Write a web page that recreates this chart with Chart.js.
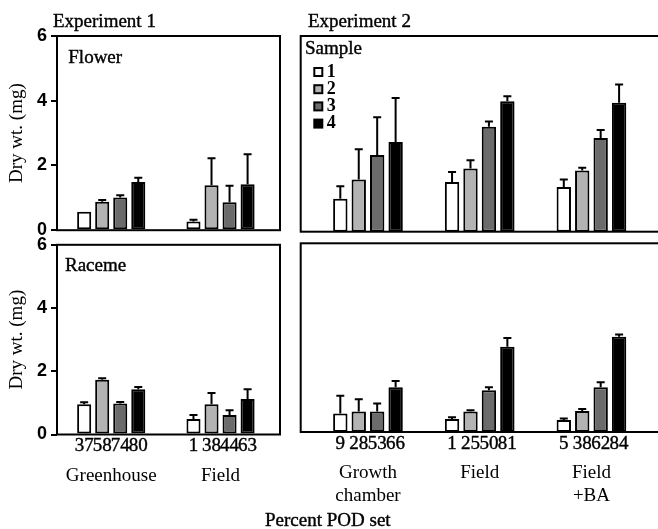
<!DOCTYPE html>
<html>
<head>
<meta charset="utf-8">
<script src="https://cdn.jsdelivr.net/npm/chart.js@4.4.0/dist/chart.umd.min.js"></script>
<style>
  body { margin: 0; background: #fff; overflow: hidden; }
  #wrap { position: relative; width: 658px; height: 529px; overflow: hidden; }
  canvas { position: absolute; }
  #xcap { position: absolute; left: 265px; top: 510px; font: 19px/19px "Liberation Serif", serif; color: #000; white-space: nowrap; -webkit-text-stroke: 0.4px #000; }
</style>
</head>
<body>
<div id="wrap">
  <canvas id="flower1" width="290" height="245" style="left:0;top:0"></canvas>
  <canvas id="flower2" width="390" height="245" style="left:290px;top:0"></canvas>
  <canvas id="raceme1" width="290" height="299" style="left:0;top:230px"></canvas>
  <canvas id="raceme2" width="390" height="299" style="left:290px;top:230px"></canvas>
  <div id="xcap">Percent POD set</div>
</div>
<script>
const SERIF = '"Liberation Serif", "Times New Roman", serif';

const sampleNames = ['1', '2', '3', '4'];
const sampleFill = ['#ffffff', '#b3b3b3', '#6b6b6b', '#000000'];

const exp1Groups = ['Greenhouse', 'Field'];
const exp2Groups = [['Growth', 'chamber'], 'Field', ['Field', '+BA']];

// percent POD set, one row per group, one value per sample
const exp1PodSet = [['37', '58', '74', '80'], ['1', '38', '44', '63']];
const exp2PodSet = [['9', '28', '53', '66'], ['1', '25', '50', '81'], ['5', '38', '62', '84']];

// dry wt (mg): one row per sample, one value per group
const flower1Mean = [[0.57, 0.27], [0.88, 1.39], [1.01, 0.86], [1.49, 1.42]];
const flower1Err  = [[0, 0.05], [0.05, 0.83], [0.07, 0.51], [0.13, 0.93]];

const flower2Mean = [[1.01, 1.52, 1.37], [1.6, 1.94, 1.88], [2.35, 3.22, 2.87], [2.75, 4.0, 3.95]];
const flower2Err  = [[0.38, 0.31, 0.23], [0.93, 0.25, 0.08], [1.16, 0.16, 0.25], [1.35, 0.15, 0.56]];

const raceme1Mean = [[0.96, 0.49], [1.73, 0.96], [0.98, 0.62], [1.43, 1.12]];
const raceme1Err  = [[0.06, 0.13], [0.05, 0.35], [0.05, 0.15], [0.07, 0.31]];

const raceme2Mean = [[0.59, 0.41, 0.38], [0.65, 0.65, 0.67], [0.65, 1.33, 1.42], [1.42, 2.71, 3.03]];
const raceme2Err  = [[0.56, 0.06, 0.05], [0.39, 0.04, 0.06], [0.26, 0.09, 0.16], [0.2, 0.28, 0.07]];

// scanned look: fill + thin stroke
function heavyText(ctx, s, x, y) {
  ctx.fillText(s, x, y);
  ctx.lineWidth = 0.4;
  ctx.strokeText(s, x, y);
}

// error bars, frame, pod-set numbers, panel labels, legend
const panelPlugin = {
  id: 'panel',
  afterDatasetsDraw(chart, args, opts) {
    const ctx = chart.ctx;
    const a = chart.chartArea;
    const yScale = chart.scales.y;
    ctx.save();
    ctx.strokeStyle = '#000';
    ctx.fillStyle = '#000';
    ctx.lineWidth = 2;

    chart.data.datasets.forEach((ds, di) => {
      chart.getDatasetMeta(di).data.forEach((bar, i) => {
        const e = ds.errors[i];
        if (!e) return;
        const top = yScale.getPixelForValue(ds.data[i].y + e);
        ctx.beginPath();
        ctx.moveTo(bar.x, bar.y);
        ctx.lineTo(bar.x, top);
        ctx.moveTo(bar.x - 4, top);
        ctx.lineTo(bar.x + 4, top);
        ctx.stroke();
      });
    });

    ctx.strokeRect(a.left, a.top, a.right - a.left, a.bottom - a.top);

    if (opts.pod) {
      ctx.font = '19px ' + SERIF;
      ctx.textAlign = 'center';
      ctx.textBaseline = 'middle';
      chart.data.datasets.forEach((ds, di) => {
        chart.getDatasetMeta(di).data.forEach((bar, i) => {
          heavyText(ctx, opts.pod[i][di], bar.x, a.bottom + 12);
        });
      });
    }

    ctx.textAlign = 'left';
    ctx.textBaseline = 'alphabetic';
    if (opts.heading) {
      ctx.font = '19px ' + SERIF;
      heavyText(ctx, opts.heading.text, opts.heading.x, opts.heading.y);
    }
    if (opts.label) {
      ctx.font = '19px ' + SERIF;
      heavyText(ctx, opts.label.text, a.left + opts.label.dx, a.top + opts.label.dy);
    }
    if (opts.legend) {
      ctx.font = '19px ' + SERIF;
      heavyText(ctx, 'Sample', a.left + 4.3, a.top + 18);
      ctx.font = 'bold 18px ' + SERIF;
      sampleNames.forEach((name, k) => {
        const base = a.top + 40.5 + 17.2 * k;
        ctx.lineWidth = 2;
        ctx.fillStyle = sampleFill[k];
        ctx.fillRect(a.left + 13.6, base - 8.5, 8, 8);
        ctx.strokeRect(a.left + 13.6, base - 8.5, 8, 8);
        ctx.fillStyle = '#000';
        ctx.fillText(name, a.left + 26, base);
      });
    }
    ctx.restore();
  }
};

function makeChart(id, o) {
  const datasets = o.mean.map((row, s) => ({
    label: sampleNames[s],
    data: row.map((v, i) => ({ x: i, y: v })),
    errors: o.err[s],
    backgroundColor: sampleFill[s],
    borderColor: '#000',
    borderWidth: 2,
    borderSkipped: false,
    categoryPercentage: 0.66,
    barPercentage: 0.78
  }));

  const yAxis = o.yAxis ? {
    min: 0, max: 6,
    afterFit: ax => { ax.width = 57; },
    grid: { drawOnChartArea: false, drawTicks: true, tickLength: 6, color: '#000', lineWidth: 2 },
    border: { display: false },
    ticks: { stepSize: 2, padding: 4, color: '#000', font: { family: '"Liberation Sans", Arial, sans-serif', size: 18, weight: 'bold' } },
    title: { display: true, text: 'Dry wt. (mg)', color: '#000', font: { family: SERIF, size: 19 }, padding: { top: 5.6, bottom: 0 } }
  } : { display: false, min: 0, max: 6 };

  return new Chart(document.getElementById(id), {
    type: 'bar',
    data: { datasets },
    plugins: [panelPlugin],
    options: {
      responsive: false,
      animation: false,
      layout: { padding: o.pad },
      plugins: { legend: { display: false }, tooltip: { enabled: false }, panel: o.panel },
      scales: {
        x: {
          type: 'linear', min: o.xMin, max: o.xMax, offset: false,
          afterBuildTicks: ax => { ax.ticks = o.groups.map((g, i) => ({ value: i })); },
          afterFit: ax => { ax.height = o.xHeight; },
          grid: { display: false, drawTicks: false, offset: false },
          border: { display: false },
          ticks: {
            display: o.xHeight > 0, padding: 30, color: '#000', autoSkip: false, maxRotation: 0,
            font: { family: SERIF, size: 19 },
            callback: v => o.groups[Math.round(v)]
          }
        },
        y: yAxis
      }
    }
  });
}

makeChart('flower1', {
  mean: flower1Mean, err: flower1Err, groups: exp1Groups,
  xMin: -0.496, xMax: 1.544, xHeight: 0, yAxis: true,
  pad: { left: 0, top: 36, right: 10, bottom: 13.3 },
  panel: { heading: { text: 'Experiment 1', x: 53, y: 26.7 }, label: { text: 'Flower', dx: 11.3, dy: 27.3 } }
});

makeChart('flower2', {
  mean: flower2Mean, err: flower2Err, groups: exp2Groups,
  xMin: -0.602, xMax: 2.703, xHeight: 0, yAxis: false,
  pad: { left: 10.7, top: 36, right: 10, bottom: 13.3 },
  panel: { heading: { text: 'Experiment 2', x: 18, y: 26.7 }, legend: true }
});

makeChart('raceme1', {
  mean: raceme1Mean, err: raceme1Err, groups: exp1Groups,
  xMin: -0.496, xMax: 1.544, xHeight: 80, yAxis: true,
  pad: { left: 0, top: 13.3, right: 10, bottom: 14.5 },
  panel: { pod: exp1PodSet, label: { text: 'Raceme', dx: 8, dy: 26 } }
});

makeChart('raceme2', {
  mean: raceme2Mean, err: raceme2Err, groups: exp2Groups,
  xMin: -0.602, xMax: 2.703, xHeight: 80, yAxis: false,
  pad: { left: 10.7, top: 13.3, right: 10, bottom: 17 },
  panel: { pod: exp2PodSet }
});
</script>
</body>
</html>
